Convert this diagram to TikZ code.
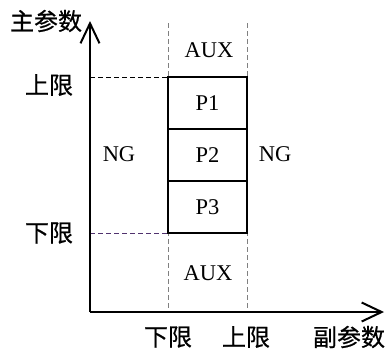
\documentclass[tikz,border=0pt]{standalone}
\usepackage{fontspec}
\setmainfont{Liberation Serif}
\newfontfamily\cjk{Noto Sans CJK SC}[FakeBold=0.6]
\usetikzlibrary{arrows.meta}
\begin{document}
\begin{tikzpicture}[x=1pt,y=-1pt,
  axis/.style={line width=2pt,-{Straight Barb[length=20pt,width=19pt,line width=2pt]}},
  boxline/.style={line width=2pt},
  guide/.style={gray,line width=0.9pt,dash pattern=on 5pt off 3pt},
  hguide/.style={line width=0.9pt,dash pattern=on 5pt off 3pt},
  zh/.style={font=\cjk\fontsize{24}{24}\selectfont, inner sep=0pt},
  lat/.style={font=\fontsize{22.5}{22.5}\selectfont, inner sep=0pt}]
\useasboundingbox (0,0) rectangle (385,349);
\coordinate (O) at (90,312);
\coordinate (ytip) at (90,21);
\coordinate (xtip) at (384,312);
\coordinate (vlt) at (168,23);
\coordinate (vlb) at (168,312);
\coordinate (vrt) at (247,23);
\coordinate (vrb) at (247,312);
\coordinate (hu) at (90,77);
\coordinate (hl) at (90,233);
\coordinate (bnw) at (168,77);
\coordinate (bsw) at (168,233);
\coordinate (bne) at (247,77);
\coordinate (bse) at (247,233);
\coordinate (d1l) at (168,129);
\coordinate (d1r) at (247,129);
\coordinate (d2l) at (168,181);
\coordinate (d2r) at (247,181);
\draw[guide] (vlt) -- (vlb);
\draw[guide] (vrt) -- (vrb);
\draw[hguide] (hu) -- (bnw);
\draw[hguide,color={rgb,255:red,80;green,50;blue,110}] (hl) -- (bsw);
\draw[boxline,fill=white] (bnw) rectangle (bse);
\draw[boxline] (d1l) -- (d1r);
\draw[boxline] (d2l) -- (d2r);
\node[lat] (p1) at (207.5,103) {P1};
\node[lat] (p2) at (207.5,155) {P2};
\node[lat] (p3) at (207.5,207) {P3};
\draw[axis] (O) -- (ytip);
\draw[axis] (O) -- (xtip);
\node[zh] (main) at (46,21) {主参数};
\node[zh] (ul) at (49,85) {上限};
\node[zh] (ll) at (49,233) {下限};
\node[zh] (bl) at (168,337) {下限};
\node[zh] (bu) at (246,337) {上限};
\node[zh] (sub) at (349,337) {副参数};
\node[lat] (ng1) at (119,154) {NG};
\node[lat] (ng2) at (275,154) {NG};
\node[lat] (aux1) at (209,50) {AUX};
\node[lat] (aux2) at (208,273) {AUX};
\end{tikzpicture}
\end{document}
